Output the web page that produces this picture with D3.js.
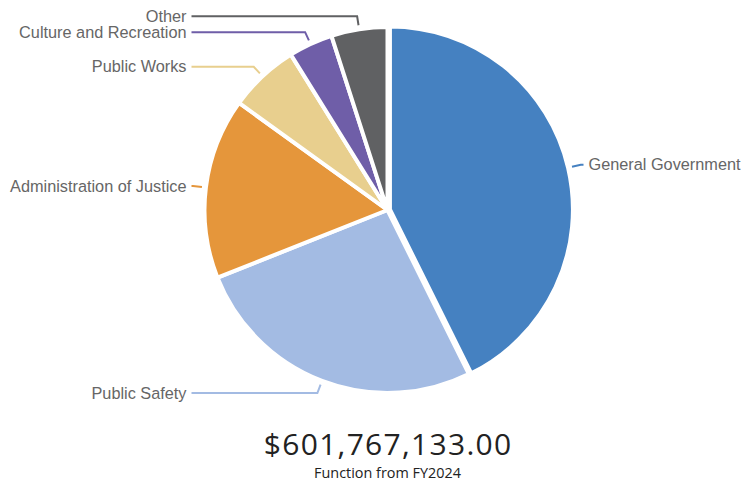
<!DOCTYPE html>
<html>
<head>
<meta charset="utf-8">
<script src="https://cdn.jsdelivr.net/npm/d3@7"></script>
<style>
  body { margin: 0; background: #fff; }
  .label { font-family: "Liberation Sans", Arial, sans-serif; font-size: 16.3px; fill: #666; }
  .total { font-family: "Open Sans", sans-serif; font-size: 30px; letter-spacing: 1.3px; fill: #222; }
  .sub { font-family: "Open Sans", sans-serif; font-size: 14.4px; fill: #222; }
</style>
</head>
<body>
<svg id="chart" width="741" height="482"></svg>
<script>
var categories = ["General Government", "Public Safety", "Administration of Justice", "Public Works", "Culture and Recreation", "Other"];
var values = [256800000, 158300000, 96100000, 37300000, 23500000, 29800000];
var colors = ["#4581c1", "#a3bbe3", "#e5963b", "#e8cf8e", "#6f5ea8", "#606163"];
var exploded = ["General Government"];
var totalLabel = "$601,767,133.00";
var subtitle = "Function from FY2024";

var svg = d3.select("svg#chart"),
    cx = 387.5, cy = 210,
    radius = 183;

var data = categories.map(function (c, i) { return {name: c, value: values[i], color: colors[i]}; });

var pie = d3.pie().sort(null).value(function (d) { return d.value; });
var arc = d3.arc().innerRadius(0).outerRadius(radius);
var arcs = pie(data);

var g = svg.append("g").attr("transform", "translate(" + cx + "," + cy + ")");

function polar(r, a) { return [r * Math.sin(a), -r * Math.cos(a)]; }
function offset(d) {
    if (exploded.indexOf(d.data.name) < 0) return [0, 0];
    return polar(2.5, (d.startAngle + d.endAngle) / 2);
}

g.selectAll(".slice")
    .data(arcs)
    .enter().append("path")
    .attr("class", "slice")
    .attr("d", arc)
    .attr("transform", function (d) { var o = offset(d); return "translate(" + o[0] + "," + o[1] + ")"; })
    .attr("fill", function (d) { return d.data.color; })
    .attr("stroke", "#fff")
    .attr("stroke-width", 4)
    .attr("stroke-linejoin", "round");

// leader lines: short radial bit, elbow, then across to the label edge
var labelEdge = 196;
arcs.forEach(function (d) {
    var mid = (d.startAngle + d.endAngle) / 2,
        o = offset(d),
        p0 = polar(radius + 4, mid),
        p1 = polar(radius + 13, mid),
        right = mid < Math.PI,
        endX = right ? labelEdge : -labelEdge;
    p0 = [p0[0] + o[0], p0[1] + o[1]];
    p1 = [p1[0] + o[0], p1[1] + o[1]];

    g.append("path")
        .attr("d", d3.line()([p0, p1, [endX, p1[1]]]))
        .attr("fill", "none")
        .attr("stroke", d.data.color)
        .attr("stroke-width", 2);

    g.append("text")
        .attr("class", "label")
        .attr("x", right ? endX + 5 : endX - 5)
        .attr("y", p1[1])
        .attr("dy", "0.35em")
        .attr("text-anchor", right ? "start" : "end")
        .text(d.data.name);
});

svg.append("text")
    .attr("class", "total")
    .attr("x", cx + 0.65).attr("y", 455)
    .attr("text-anchor", "middle")
    .text(totalLabel);

svg.append("text")
    .attr("class", "sub")
    .attr("x", cx).attr("y", 478)
    .attr("text-anchor", "middle")
    .text(subtitle);
</script>
</body>
</html>
